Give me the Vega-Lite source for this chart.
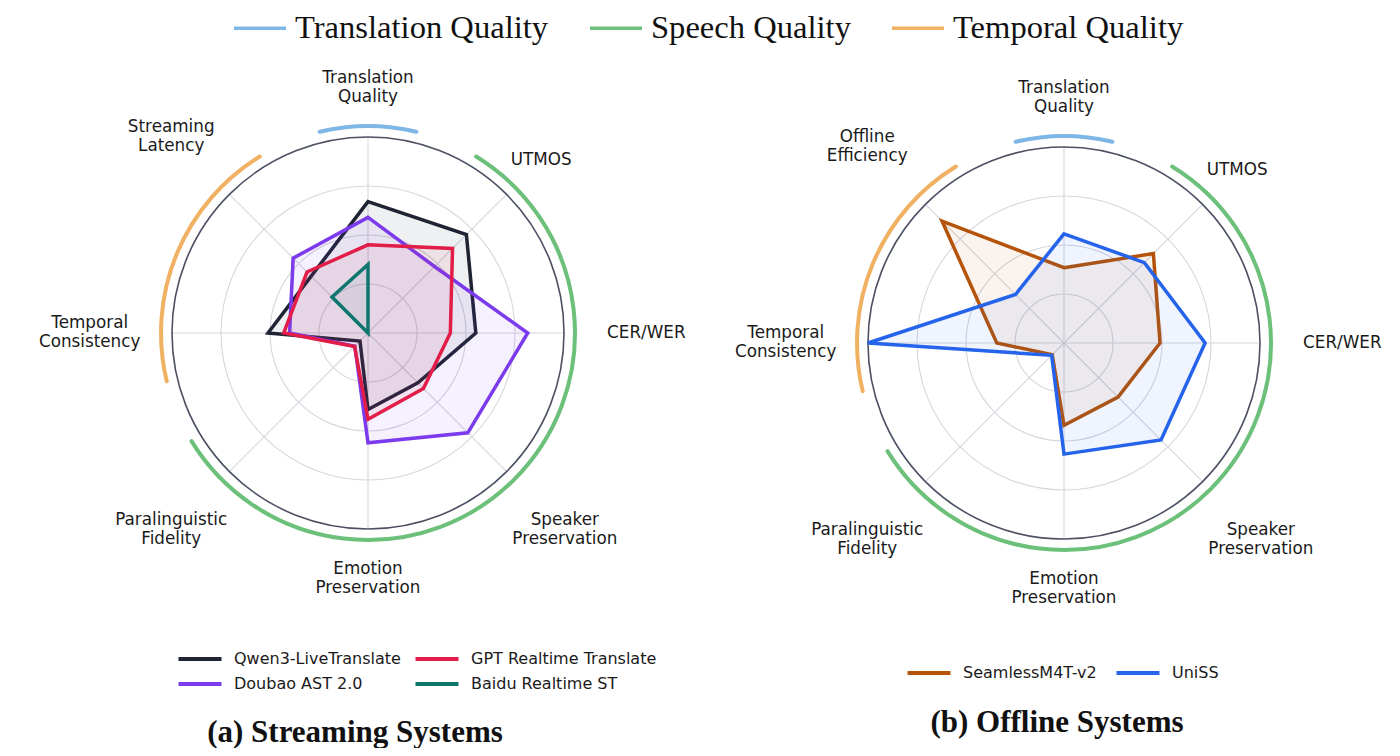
{
  "$schema": "https://vega.github.io/schema/vega-lite/v6.json",
  "background": "white",
  "padding": {"left": 28, "top": 0, "right": 0, "bottom": 0},
  "bounds": "flush",
  "spacing": 20,
  "config": {"view": {"stroke": null}, "font": "DejaVu Sans"},
  "datasets": {
    "grid": [{"g": 0.25}, {"g": 0.5}, {"g": 0.75}],
    "outer": [{"g": 1}],
    "axesA": [
      {"label": "Translation\nQuality", "i": 0},
      {"label": "UTMOS", "i": 1},
      {"label": "CER/WER", "i": 2},
      {"label": "Speaker\nPreservation", "i": 3},
      {"label": "Emotion\nPreservation", "i": 4},
      {"label": "Paralinguistic\nFidelity", "i": 5},
      {"label": "Temporal\nConsistency", "i": 6},
      {"label": "Streaming\nLatency", "i": 7}
    ],
    "axesB": [
      {"label": "Translation\nQuality", "i": 0},
      {"label": "UTMOS", "i": 1},
      {"label": "CER/WER", "i": 2},
      {"label": "Speaker\nPreservation", "i": 3},
      {"label": "Emotion\nPreservation", "i": 4},
      {"label": "Paralinguistic\nFidelity", "i": 5},
      {"label": "Temporal\nConsistency", "i": 6},
      {"label": "Offline\nEfficiency", "i": 7}
    ],
    "arcsA": [
      {"cat": "Translation Quality", "t1": -13.5, "t2": 13.5},
      {"cat": "Speech Quality", "t1": 31.5, "t2": 238.5},
      {"cat": "Temporal Quality", "t1": 256.5, "t2": 328.5}
    ],
    "arcsB": [
      {"cat": "Translation Quality", "t1": -13.5, "t2": 13.5},
      {"cat": "Speech Quality", "t1": 31.5, "t2": 238.5},
      {"cat": "Temporal Quality", "t1": 256.5, "t2": 328.5}
    ],
    "valsA": [
      {"m": "Qwen3-LiveTranslate", "i": 0, "v": 0.67},
      {"m": "Qwen3-LiveTranslate", "i": 1, "v": 0.71},
      {"m": "Qwen3-LiveTranslate", "i": 2, "v": 0.55},
      {"m": "Qwen3-LiveTranslate", "i": 3, "v": 0.36},
      {"m": "Qwen3-LiveTranslate", "i": 4, "v": 0.39},
      {"m": "Qwen3-LiveTranslate", "i": 5, "v": 0.058},
      {"m": "Qwen3-LiveTranslate", "i": 6, "v": 0.51},
      {"m": "Qwen3-LiveTranslate", "i": 7, "v": 0.41},
      {"m": "Doubao AST 2.0", "i": 0, "v": 0.59},
      {"m": "Doubao AST 2.0", "i": 1, "v": 0.48},
      {"m": "Doubao AST 2.0", "i": 2, "v": 0.815},
      {"m": "Doubao AST 2.0", "i": 3, "v": 0.72},
      {"m": "Doubao AST 2.0", "i": 4, "v": 0.56},
      {"m": "Doubao AST 2.0", "i": 5, "v": 0.095},
      {"m": "Doubao AST 2.0", "i": 6, "v": 0.40},
      {"m": "Doubao AST 2.0", "i": 7, "v": 0.54},
      {"m": "GPT Realtime Translate", "i": 0, "v": 0.45},
      {"m": "GPT Realtime Translate", "i": 1, "v": 0.61},
      {"m": "GPT Realtime Translate", "i": 2, "v": 0.42},
      {"m": "GPT Realtime Translate", "i": 3, "v": 0.40},
      {"m": "GPT Realtime Translate", "i": 4, "v": 0.44},
      {"m": "GPT Realtime Translate", "i": 5, "v": 0.097},
      {"m": "GPT Realtime Translate", "i": 6, "v": 0.43},
      {"m": "GPT Realtime Translate", "i": 7, "v": 0.44},
      {"m": "Baidu Realtime ST", "i": 0, "v": 0.35},
      {"m": "Baidu Realtime ST", "i": 1, "v": 0},
      {"m": "Baidu Realtime ST", "i": 2, "v": 0},
      {"m": "Baidu Realtime ST", "i": 3, "v": 0},
      {"m": "Baidu Realtime ST", "i": 4, "v": 0},
      {"m": "Baidu Realtime ST", "i": 5, "v": 0},
      {"m": "Baidu Realtime ST", "i": 6, "v": 0},
      {"m": "Baidu Realtime ST", "i": 7, "v": 0.26}
    ],
    "valsB": [
      {"m": "SeamlessM4T-v2", "i": 0, "v": 0.384},
      {"m": "SeamlessM4T-v2", "i": 1, "v": 0.645},
      {"m": "SeamlessM4T-v2", "i": 2, "v": 0.49},
      {"m": "SeamlessM4T-v2", "i": 3, "v": 0.39},
      {"m": "SeamlessM4T-v2", "i": 4, "v": 0.42},
      {"m": "SeamlessM4T-v2", "i": 5, "v": 0.085},
      {"m": "SeamlessM4T-v2", "i": 6, "v": 0.343},
      {"m": "SeamlessM4T-v2", "i": 7, "v": 0.88},
      {"m": "UniSS", "i": 0, "v": 0.557},
      {"m": "UniSS", "i": 1, "v": 0.58},
      {"m": "UniSS", "i": 2, "v": 0.72},
      {"m": "UniSS", "i": 3, "v": 0.70},
      {"m": "UniSS", "i": 4, "v": 0.567},
      {"m": "UniSS", "i": 5, "v": 0.089},
      {"m": "UniSS", "i": 6, "v": 1.0},
      {"m": "UniSS", "i": 7, "v": 0.35}
    ]
  },
  "resolve": {
    "scale": {"color": "independent", "stroke": "independent", "fill": "independent", "x": "independent", "y": "independent", "theta": "independent", "radius": "independent"},
    "legend": {"color": "independent", "stroke": "independent", "fill": "independent"}
  },
  "hconcat": [
    {
      "width": 680,
      "height": 666,
      "title": {"text": "(a) Streaming Systems", "orient": "top", "anchor": "middle", "dx": -13, "offset": -773, "baseline": "alphabetic", "font": "Liberation Serif", "fontSize": 31, "fontWeight": "bold", "color": "#111111"},
      "layer": [
        {
          "data": {"name": "grid"},
          "transform": [{"calculate": "0", "as": "a0"}, {"calculate": "360", "as": "a1"}],
          "mark": {"type": "arc", "filled": false, "stroke": "#d6d6de", "strokeWidth": 1.1},
          "encoding": {
            "theta": {"field": "a0", "type": "quantitative", "stack": null, "scale": {"type": "linear", "domain": [0, 360], "range": [0, 6.283185307179586]}},
            "theta2": {"field": "a1"},
            "radius": {"field": "g", "type": "quantitative", "scale": {"type": "linear", "domain": [0, 1], "range": [0, 196], "zero": true, "nice": false}}
          }
        },
        {
          "data": {"name": "axesA"},
          "transform": [
            {"calculate": "0", "as": "o"},
            {"calculate": "sin(datum.i*PI/4)", "as": "sx"},
            {"calculate": "cos(datum.i*PI/4)", "as": "sy"}
          ],
          "mark": {"type": "rule", "color": "#d6d6de", "strokeWidth": 1.1},
          "encoding": {
            "x": {"field": "o", "type": "quantitative", "scale": {"domain": [-1.734694, 1.734694], "nice": false, "zero": false}, "axis": null},
            "y": {"field": "o", "type": "quantitative", "scale": {"domain": [-1.698980, 1.698980], "nice": false, "zero": false}, "axis": null},
            "x2": {"field": "sx"},
            "y2": {"field": "sy"}
          }
        },
        {
          "data": {"name": "outer"},
          "transform": [{"calculate": "0", "as": "a0"}, {"calculate": "360", "as": "a1"}],
          "mark": {"type": "arc", "filled": false, "stroke": "#4b5063", "strokeWidth": 1.6},
          "encoding": {
            "theta": {"field": "a0", "type": "quantitative", "stack": null},
            "theta2": {"field": "a1"},
            "radius": {"field": "g", "type": "quantitative"}
          }
        },
        {
          "data": {"name": "arcsA"},
          "transform": [{"calculate": "1.056", "as": "rr"}],
          "mark": {"type": "arc", "filled": false, "strokeWidth": 4, "strokeJoin": "round"},
          "encoding": {
            "theta": {"field": "t1", "type": "quantitative", "stack": null},
            "theta2": {"field": "t2"},
            "radius": {"field": "rr", "type": "quantitative"},
            "radius2": {"field": "rr"},
            "color": {
              "field": "cat", "type": "nominal",
              "scale": {"domain": ["Translation Quality", "Speech Quality", "Temporal Quality"], "range": ["#7eb6e6", "#6cc07a", "#f0b163"]},
              "legend": {"orient": "none", "legendX": 204, "legendY": 0, "direction": "horizontal", "columns": 3, "title": null, "padding": 0, "symbolType": "stroke", "symbolSize": 2704, "symbolStrokeWidth": 3.5, "labelFont": "Liberation Serif", "labelFontSize": 32.6, "labelColor": "#111111", "labelOffset": 7, "columnPadding": 34, "labelLimit": 400}
            }
          }
        },
        {
          "data": {"name": "valsA"},
          "transform": [
            {"calculate": "datum.v*sin(datum.i*PI/4)", "as": "x"},
            {"calculate": "datum.v*cos(datum.i*PI/4)", "as": "y"}
          ],
          "mark": {"type": "line", "interpolate": "linear-closed", "strokeWidth": 3.5, "fillOpacity": 0.07, "strokeJoin": "miter"},
          "encoding": {
            "x": {"field": "x", "type": "quantitative"},
            "y": {"field": "y", "type": "quantitative"},
            "order": {"field": "i", "type": "quantitative"},
            "stroke": {
              "field": "m", "type": "nominal",
              "scale": {"domain": ["Qwen3-LiveTranslate", "Doubao AST 2.0", "GPT Realtime Translate", "Baidu Realtime ST"], "range": ["#1e2433", "#7c3aed", "#e11d48", "#0f766e"]},
              "legend": {"orient": "none", "legendX": 159, "legendY": 646, "columns": 2, "title": null, "padding": 0, "symbolType": "M-2,0H2", "symbolSize": 462, "symbolStrokeWidth": 3.8, "labelFont": "DejaVu Sans", "labelFontSize": 16, "labelColor": "#1a1a1a", "labelOffset": 21, "columnPadding": 6, "rowPadding": 4, "labelLimit": 300}
            },
            "fill": {
              "field": "m", "type": "nominal",
              "scale": {"domain": ["Qwen3-LiveTranslate", "Doubao AST 2.0", "GPT Realtime Translate", "Baidu Realtime ST"], "range": ["#1e2433", "#7c3aed", "#e11d48", "#0f766e"]},
              "legend": {"orient": "none", "legendX": 159, "legendY": 646, "columns": 2, "title": null, "padding": 0, "symbolType": "M-2,0H2", "symbolSize": 462, "symbolStrokeWidth": 3.8, "labelFont": "DejaVu Sans", "labelFontSize": 16, "labelColor": "#1a1a1a", "labelOffset": 21, "columnPadding": 6, "rowPadding": 4, "labelLimit": 300}
            }
          }
        },
        {
          "data": {"name": "axesA"},
          "transform": [
            {"calculate": "indexof(datum.label, '\\n') >= 0", "as": "multi"},
            {"calculate": "abs(sin(datum.i*PI/4)) < 0.1 ? 1.255 : ((!datum.multi && abs(cos(datum.i*PI/4)) > 0.1) ? 1.25 : 1.42)", "as": "lr"},
            {"calculate": "datum.lr*sin(datum.i*PI/4)", "as": "lx"},
            {"calculate": "datum.lr*cos(datum.i*PI/4) + (datum.multi ? 0.0485 : 0)", "as": "ly"}
          ],
          "mark": {"type": "text", "align": "center", "baseline": "middle", "lineBreak": "\n", "font": "DejaVu Sans", "fontSize": 16.8, "lineHeight": 19, "color": "#1a1a1a"},
          "encoding": {
            "x": {"field": "lx", "type": "quantitative"},
            "y": {"field": "ly", "type": "quantitative"},
            "text": {"field": "label"}
          }
        }
      ]
    },
    {
      "width": 672,
      "height": 686,
      "title": {"text": "(b) Offline Systems", "orient": "top", "anchor": "middle", "dx": -7, "offset": -763, "baseline": "alphabetic", "font": "Liberation Serif", "fontSize": 31, "fontWeight": "bold", "color": "#111111"},
      "layer": [
        {
          "data": {"name": "grid"},
          "transform": [{"calculate": "0", "as": "a0"}, {"calculate": "360", "as": "a1"}],
          "mark": {"type": "arc", "filled": false, "stroke": "#d6d6de", "strokeWidth": 1.1},
          "encoding": {
            "theta": {"field": "a0", "type": "quantitative", "stack": null, "scale": {"type": "linear", "domain": [0, 360], "range": [0, 6.283185307179586]}},
            "theta2": {"field": "a1"},
            "radius": {"field": "g", "type": "quantitative", "scale": {"type": "linear", "domain": [0, 1], "range": [0, 196], "zero": true, "nice": false}}
          }
        },
        {
          "data": {"name": "axesB"},
          "transform": [
            {"calculate": "0", "as": "o"},
            {"calculate": "sin(datum.i*PI/4)", "as": "sx"},
            {"calculate": "cos(datum.i*PI/4)", "as": "sy"}
          ],
          "mark": {"type": "rule", "color": "#d6d6de", "strokeWidth": 1.1},
          "encoding": {
            "x": {"field": "o", "type": "quantitative", "scale": {"domain": [-1.714286, 1.714286], "nice": false, "zero": false}, "axis": null},
            "y": {"field": "o", "type": "quantitative", "scale": {"domain": [-1.75, 1.75], "nice": false, "zero": false}, "axis": null},
            "x2": {"field": "sx"},
            "y2": {"field": "sy"}
          }
        },
        {
          "data": {"name": "outer"},
          "transform": [{"calculate": "0", "as": "a0"}, {"calculate": "360", "as": "a1"}],
          "mark": {"type": "arc", "filled": false, "stroke": "#4b5063", "strokeWidth": 1.6},
          "encoding": {
            "theta": {"field": "a0", "type": "quantitative", "stack": null},
            "theta2": {"field": "a1"},
            "radius": {"field": "g", "type": "quantitative"}
          }
        },
        {
          "data": {"name": "arcsB"},
          "transform": [{"calculate": "1.056", "as": "rr"}],
          "mark": {"type": "arc", "filled": false, "strokeWidth": 4, "strokeJoin": "round"},
          "encoding": {
            "theta": {"field": "t1", "type": "quantitative", "stack": null},
            "theta2": {"field": "t2"},
            "radius": {"field": "rr", "type": "quantitative"},
            "radius2": {"field": "rr"},
            "color": {
              "field": "cat", "type": "nominal",
              "scale": {"domain": ["Translation Quality", "Speech Quality", "Temporal Quality"], "range": ["#7eb6e6", "#6cc07a", "#f0b163"]},
              "legend": null
            }
          }
        },
        {
          "data": {"name": "valsB"},
          "transform": [
            {"calculate": "datum.v*sin(datum.i*PI/4)", "as": "x"},
            {"calculate": "datum.v*cos(datum.i*PI/4)", "as": "y"}
          ],
          "mark": {"type": "line", "interpolate": "linear-closed", "strokeWidth": 3.5, "fillOpacity": 0.07, "strokeJoin": "miter"},
          "encoding": {
            "x": {"field": "x", "type": "quantitative"},
            "y": {"field": "y", "type": "quantitative"},
            "order": {"field": "i", "type": "quantitative"},
            "stroke": {
              "field": "m", "type": "nominal",
              "scale": {"domain": ["SeamlessM4T-v2", "UniSS"], "range": ["#b45309", "#2563eb"]},
              "legend": {"orient": "none", "legendX": 188, "legendY": 660, "columns": 2, "title": null, "padding": 0, "symbolType": "M-2,0H2", "symbolSize": 462, "symbolStrokeWidth": 3.8, "labelFont": "DejaVu Sans", "labelFontSize": 16, "labelColor": "#1a1a1a", "labelOffset": 21, "columnPadding": 11, "labelLimit": 300}
            },
            "fill": {
              "field": "m", "type": "nominal",
              "scale": {"domain": ["SeamlessM4T-v2", "UniSS"], "range": ["#b45309", "#2563eb"]},
              "legend": {"orient": "none", "legendX": 188, "legendY": 660, "columns": 2, "title": null, "padding": 0, "symbolType": "M-2,0H2", "symbolSize": 462, "symbolStrokeWidth": 3.8, "labelFont": "DejaVu Sans", "labelFontSize": 16, "labelColor": "#1a1a1a", "labelOffset": 21, "columnPadding": 11, "labelLimit": 300}
            }
          }
        },
        {
          "data": {"name": "axesB"},
          "transform": [
            {"calculate": "indexof(datum.label, '\\n') >= 0", "as": "multi"},
            {"calculate": "abs(sin(datum.i*PI/4)) < 0.1 ? 1.255 : ((!datum.multi && abs(cos(datum.i*PI/4)) > 0.1) ? 1.25 : 1.42)", "as": "lr"},
            {"calculate": "datum.lr*sin(datum.i*PI/4)", "as": "lx"},
            {"calculate": "datum.lr*cos(datum.i*PI/4) + (datum.multi ? 0.0485 : 0)", "as": "ly"}
          ],
          "mark": {"type": "text", "align": "center", "baseline": "middle", "lineBreak": "\n", "font": "DejaVu Sans", "fontSize": 16.8, "lineHeight": 19, "color": "#1a1a1a"},
          "encoding": {
            "x": {"field": "lx", "type": "quantitative"},
            "y": {"field": "ly", "type": "quantitative"},
            "text": {"field": "label"}
          }
        }
      ]
    }
  ]
}
